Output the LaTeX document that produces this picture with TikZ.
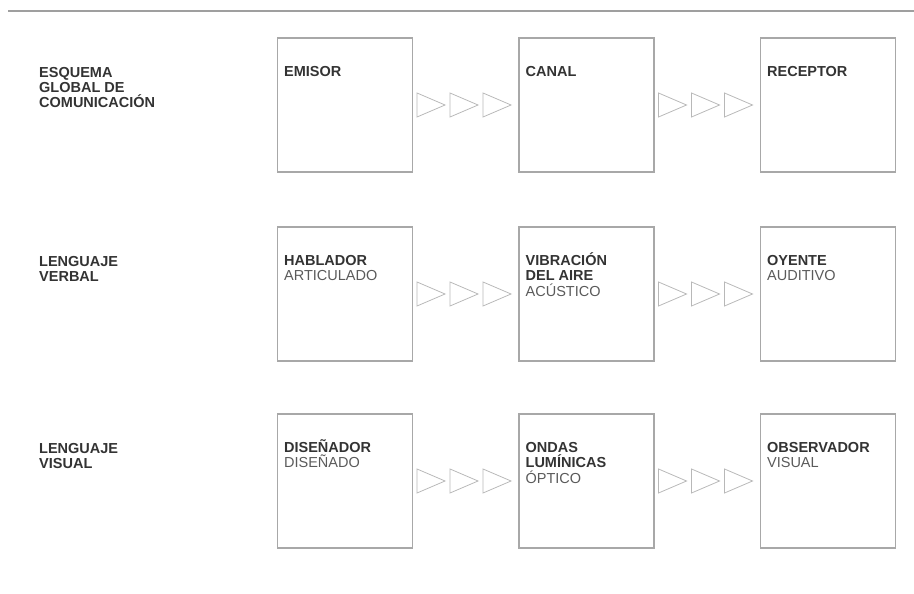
\documentclass[tikz,border=0pt]{standalone}
\usepackage{fontspec}
\setmainfont{Liberation Sans}
\usetikzlibrary{calc}
\definecolor{boxgray}{HTML}{A8A8A8}
\definecolor{trigray}{HTML}{B8B8B8}
\definecolor{textdark}{HTML}{333333}
\definecolor{textlight}{HTML}{5A5A5A}
\newcommand{\lite}[1]{{\fontseries{m}\selectfont\color{textlight}#1}}
\newcommand{\topstrut}{\rule{0pt}{14pt}}
\tikzset{
  stagebox/.style={draw=boxgray, line width=1.1pt, minimum width=135pt, minimum height=134pt, inner sep=0pt},
  lbl/.style={anchor=north west, inner sep=0pt, align=left, font=\fontsize{14.5}{15.2}\selectfont\bfseries, text=textdark},
  tri/.style={draw=trigray, line width=0.8pt, line join=miter},
}
\begin{document}
\begin{tikzpicture}[x=1pt, y=-1pt]
\useasboundingbox (0,0) rectangle (914,594);
\draw[color=gray!75, line width=2pt] (8,11) -- (914,11);

% row labels (first baselines at 77, 266, 453; strut 14pt)
\node[lbl] (r1) at (39,63) {\topstrut ESQUEMA\\GLOBAL DE\\COMUNICACIÓN};
\node[lbl] (r2) at (39,252) {\topstrut LENGUAJE\\VERBAL};
\node[lbl] (r3) at (39,439) {\topstrut LENGUAJE\\VISUAL};

% boxes
\foreach \r/\y in {1/105, 2/294, 3/481}{
  \node[stagebox] (a\r) at (345,\y) {};
  \node[stagebox] (b\r) at (586.5,\y) {};
  \node[stagebox] (c\r) at (828,\y) {};
}

% box texts
\node[lbl] (ta1) at ($(a1.north west)+(7,25)$) {\topstrut EMISOR};
\node[lbl] (tb1) at ($(b1.north west)+(7,25)$) {\topstrut CANAL};
\node[lbl] (tc1) at ($(c1.north west)+(7,25)$) {\topstrut RECEPTOR};
\node[lbl] (ta2) at ($(a2.north west)+(7,25)$) {\topstrut HABLADOR\\\lite{ARTICULADO}};
\node[lbl] (tb2) at ($(b2.north west)+(7,25)$) {\topstrut VIBRACIÓN\\DEL AIRE\\\lite{ACÚSTICO}};
\node[lbl] (tc2) at ($(c2.north west)+(7,25)$) {\topstrut OYENTE\\\lite{AUDITIVO}};
\node[lbl] (ta3) at ($(a3.north west)+(7,25)$) {\topstrut DISEÑADOR\\\lite{DISEÑADO}};
\node[lbl] (tb3) at ($(b3.north west)+(7,25)$) {\topstrut ONDAS\\LUMÍNICAS\\\lite{ÓPTICO}};
\node[lbl] (tc3) at ($(c3.north west)+(7,25)$) {\topstrut OBSERVADOR\\\lite{VISUAL}};

% triangle connectors
\foreach \r in {1,2,3}{
  \foreach \s in {a,b}{
    \foreach \i in {0,1,2}{
      \draw[tri] ($(\s\r.east)+(4+\i*33,-12)$) -- ++(28,12) -- ++(-28,12) -- cycle;
    }
  }
}
\end{tikzpicture}
\end{document}
